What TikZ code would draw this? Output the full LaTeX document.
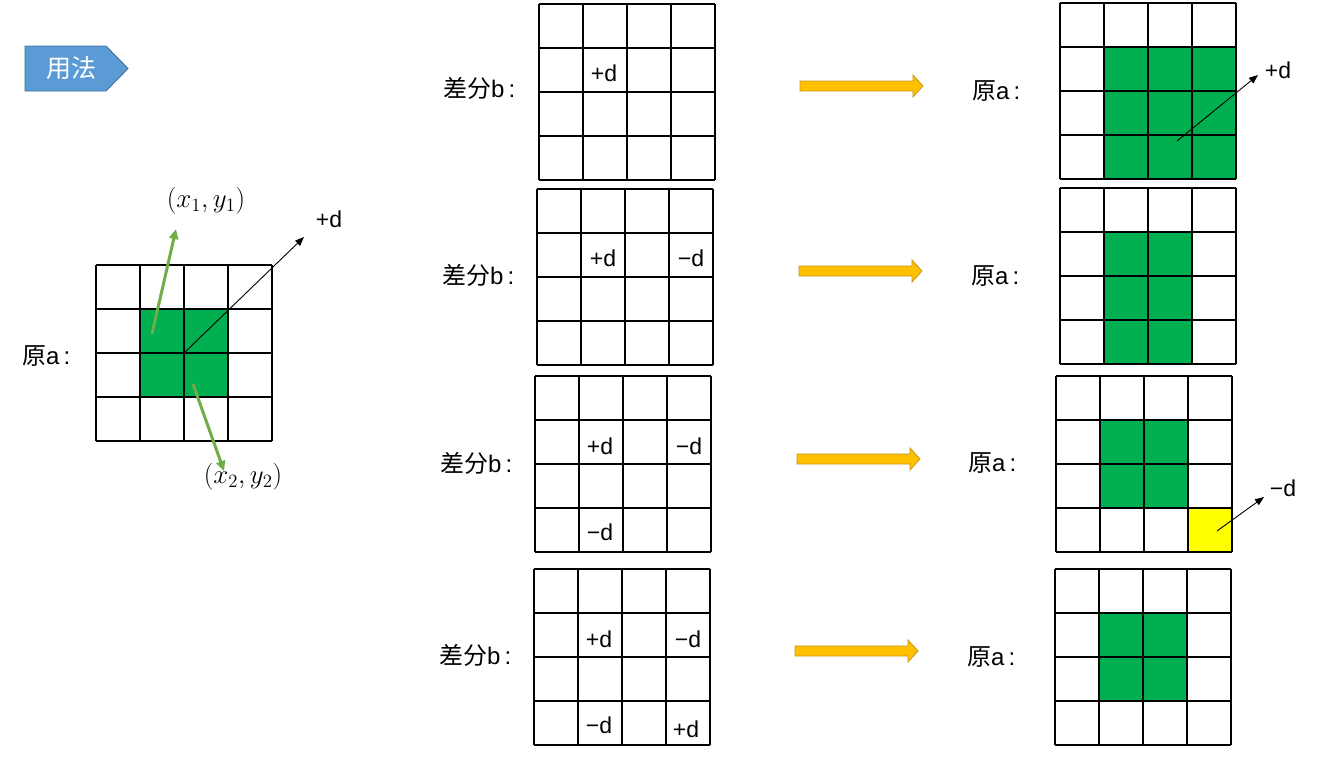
\documentclass[tikz,border=0pt]{standalone}
\usepackage{graphicx}
\usepackage{fontspec}
\setmainfont{Liberation Sans}
\newfontfamily\cjk{Noto Sans CJK SC}
\usetikzlibrary{arrows.meta}
\definecolor{cellgreen}{HTML}{00B050}
\definecolor{cellyellow}{HTML}{FFFF00}
\definecolor{arrgreen}{HTML}{70AD47}
\definecolor{orangefill}{HTML}{FFC000}
\definecolor{orangeline}{HTML}{C9971A}
\definecolor{tagfill}{HTML}{5B9BD5}
\definecolor{tagline}{HTML}{41719C}
\tikzset{
  gridline/.style={line width=1.3pt, black},
  celltext/.style={font=\fontsize{23}{26}\selectfont, inner sep=0pt},
  sidelabel/.style={font=\fontsize{24}{27}\selectfont, inner sep=0pt, anchor=west},
  blackarrow/.style={line width=0.9pt, -{Triangle[length=9pt,width=7pt]}},
  greenarrow/.style={line width=3pt, arrgreen, -{Triangle[length=10pt,width=9pt]}},
  orangearrow/.style={fill=orangefill, draw=orangeline, line width=0.8pt},
  mathlabel/.style={font=\fontsize{20}{24}\selectfont, inner sep=0pt},
}
\newcommand\cellgrid[2]{%
  \foreach \k in {0,...,4}{%
    \draw[gridline] ({#1+44*\k},#2) -- ({#1+44*\k},{#2+176});
    \draw[gridline] (#1,{#2+44*\k}) -- ({#1+176},{#2+44*\k});
  }}
\newcommand\blockarrow[2]{%
  \draw[orangearrow] (#1,{#2-5}) -- ({#1+113},{#2-5}) -- ({#1+113},{#2-11}) -- ({#1+123},#2)
    -- ({#1+113},{#2+11}) -- ({#1+113},{#2+5}) -- (#1,{#2+5}) -- cycle;}
\begin{document}
\begin{tikzpicture}[x=1pt,y=-1pt]
\useasboundingbox (0,0) rectangle (1329,761);
\fill[white] (0,0) rectangle (1329,761);

% tag
\draw[fill=tagfill, draw=tagline, line width=0.9pt] (25,46) -- (106,46) -- (128,68.5) -- (106,91) -- (25,91) -- cycle;
\node[font=\cjk\fontsize{25}{28}\selectfont, text=white, inner sep=0pt] (tag) at (71,68) {用法};

% ---------- left grid ----------
\fill[cellgreen] (140,309) rectangle ++(88,88);
\cellgrid{96}{265}
\node[sidelabel] (la) at (22,356) {{\cjk 原}a\,:};
\coordinate (lstart) at (184,353);
\coordinate (lend) at (304,237);
\draw[blackarrow] (lstart) -- (lend);
\node[celltext] (lplus) at (329,219) {+d};
\coordinate (g1s) at (152,334);
\coordinate (g1e) at (176,229);
\draw[greenarrow] (g1s) -- (g1e);
\node[mathlabel] (p1) at (206,201) {\scalebox{1.3}{$(x_1,y_1)$}};
\coordinate (g2s) at (193,384);
\coordinate (g2e) at (224,471);
\draw[greenarrow] (g2s) -- (g2e);
\node[mathlabel] (p2) at (243,477) {\scalebox{1.3}{$(x_2,y_2)$}};

% ---------- row 1 ----------
\node[sidelabel] (b1l) at (443,88) {{\cjk 差分}b\,:};
\cellgrid{539}{4}
\node[celltext] (b1a) at (604,73) {+d};
\blockarrow{800}{86}
\node[sidelabel] (a1l) at (972,91) {{\cjk 原}a\,:};
\fill[cellgreen] (1104,47) rectangle ++(132,132);
\cellgrid{1060}{3}
\coordinate (a1s) at (1177,141);
\coordinate (a1e) at (1258,75);
\draw[blackarrow] (a1s) -- (a1e);
\node[celltext] (a1plus) at (1278,70) {+d};

% ---------- row 2 ----------
\node[sidelabel] (b2l) at (442,275) {{\cjk 差分}b\,:};
\cellgrid{537}{189}
\node[celltext] (b2a) at (603,258) {+d};
\node[celltext] (b2b) at (691,258) {−d};
\blockarrow{799}{271}
\node[sidelabel] (a2l) at (971,276) {{\cjk 原}a\,:};
\fill[cellgreen] (1104,232) rectangle ++(88,132);
\cellgrid{1060}{188}

% ---------- row 3 ----------
\node[sidelabel] (b3l) at (440,463) {{\cjk 差分}b\,:};
\cellgrid{535}{376}
\node[celltext] (b3a) at (600,446) {+d};
\node[celltext] (b3b) at (689,446) {−d};
\node[celltext] (b3c) at (600,532) {−d};
\blockarrow{797}{459}
\node[sidelabel] (a3l) at (968,463) {{\cjk 原}a\,:};
\fill[cellgreen] (1100,420) rectangle ++(88,88);
\fill[cellyellow] (1188,508) rectangle ++(44,44);
\cellgrid{1056}{376}
\coordinate (a3s) at (1217,531);
\coordinate (a3e) at (1264,497);
\draw[blackarrow] (a3s) -- (a3e);
\node[celltext] (a3minus) at (1283,488) {−d};

% ---------- row 4 ----------
\node[sidelabel] (b4l) at (439,655) {{\cjk 差分}b\,:};
\cellgrid{534}{569}
\node[celltext] (b4a) at (599,639) {+d};
\node[celltext] (b4b) at (688,639) {−d};
\node[celltext] (b4c) at (599,725) {−d};
\node[celltext] (b4d) at (686,729) {+d};
\blockarrow{795}{651}
\node[sidelabel] (a4l) at (967,657) {{\cjk 原}a\,:};
\fill[cellgreen] (1099,613) rectangle ++(88,88);
\cellgrid{1055}{569}
\end{tikzpicture}
\end{document}
